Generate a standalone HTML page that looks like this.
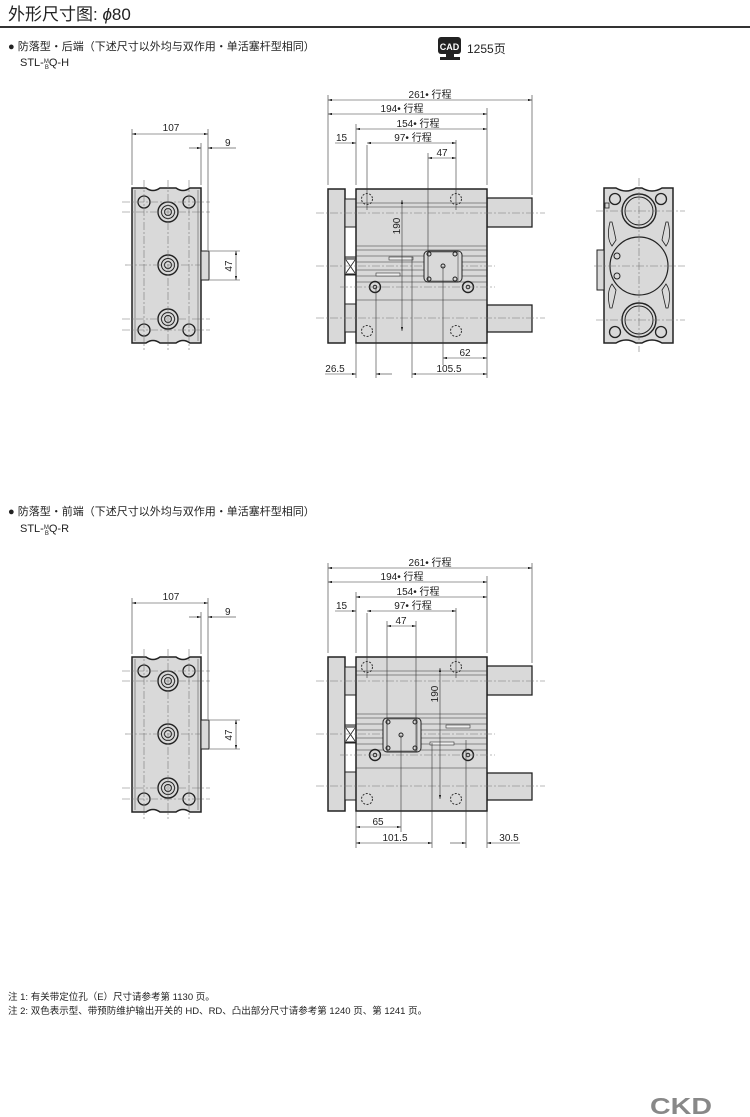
<!DOCTYPE html>
<html><head><meta charset="utf-8"><style>
html,body{margin:0;padding:0;background:#fff;}
body{width:750px;height:1117px;overflow:hidden;position:relative;font-family:"Liberation Sans","Noto Sans CJK SC",sans-serif;}
svg{position:absolute;left:0;top:0;}
</style></head><body>
<svg width="750" height="1117" viewBox="0 0 750 1117" xmlns="http://www.w3.org/2000/svg" font-family="Liberation Sans, Noto Sans CJK SC, sans-serif">
<defs>
<marker id="a" viewBox="0 0 10 6" refX="10" refY="3" markerWidth="7" markerHeight="4" orient="auto-start-reverse"><path d="M0,0L10,3L0,6z" fill="#222"/></marker>
<g id="side">
 <path d="M132,188 H146 Q153,193 160,188 H176 Q183,193 190,188 H201 V343 H190 Q183,338 176,343 H160 Q153,338 146,343 H132 Z" fill="#d9d9d9" stroke="#222" stroke-width="1.5"/>
 <line x1="135" y1="190" x2="135" y2="341" stroke="#555" stroke-width="0.6"/>
 <line x1="198" y1="190" x2="198" y2="341" stroke="#555" stroke-width="0.6"/>
 <rect x="201" y="251" width="8" height="29" fill="#d9d9d9" stroke="#222"/>
 <g fill="none" stroke="#222">
  <circle cx="168" cy="212" r="10" stroke-width="1.4"/><circle cx="168" cy="212" r="6.5"/><circle cx="168" cy="212" r="3.5"/>
  <circle cx="168" cy="265" r="10" stroke-width="1.4"/><circle cx="168" cy="265" r="6.5"/><circle cx="168" cy="265" r="3.5"/>
  <circle cx="168" cy="319" r="10" stroke-width="1.4"/><circle cx="168" cy="319" r="6.5"/><circle cx="168" cy="319" r="3.5"/>
  <circle cx="144" cy="202" r="6" stroke-width="1.3"/><circle cx="189" cy="202" r="6" stroke-width="1.3"/>
  <circle cx="144" cy="330" r="6" stroke-width="1.3"/><circle cx="189" cy="330" r="6" stroke-width="1.3"/>
 </g>
 <g stroke="#777" stroke-width="0.6" stroke-dasharray="8,2,2,2" fill="none">
  <line x1="168" y1="180" x2="168" y2="350"/><line x1="144" y1="180" x2="144" y2="350"/><line x1="189" y1="180" x2="189" y2="350"/>
  <line x1="122" y1="202" x2="210" y2="202"/><line x1="122" y1="330" x2="210" y2="330"/>
  <line x1="122" y1="212" x2="210" y2="212"/><line x1="122" y1="319" x2="210" y2="319"/>
  <line x1="125" y1="265" x2="200" y2="265"/>
 </g>
 <g stroke="#333" stroke-width="0.6" fill="none">
  <line x1="132" y1="185" x2="132" y2="129"/><line x1="201" y1="185" x2="201" y2="143"/><line x1="208" y1="250" x2="208" y2="129"/>
  <line x1="132" y1="134" x2="208" y2="134" marker-start="url(#a)" marker-end="url(#a)"/>
  <line x1="189" y1="148" x2="201" y2="148" marker-end="url(#a)"/><line x1="222" y1="148" x2="208" y2="148" marker-end="url(#a)"/><line x1="222" y1="148" x2="236" y2="148"/>
  <line x1="210" y1="251" x2="240" y2="251"/><line x1="210" y1="280" x2="240" y2="280"/>
  <line x1="236" y1="251" x2="236" y2="280" marker-start="url(#a)" marker-end="url(#a)"/>
 </g>
 <text x="171" y="131" font-size="10" text-anchor="middle" fill="#222">107</text>
 <text x="225" y="146" font-size="10" fill="#222">9</text>
 <text x="232" y="266" font-size="10" fill="#222" transform="rotate(-90 232 266)" text-anchor="middle">47</text>
</g>
<g id="mainbase">
 <rect x="328" y="189" width="17" height="154" fill="#d9d9d9" stroke="#222" stroke-width="1.5"/>
 <rect x="345" y="199" width="11" height="133" fill="#d9d9d9" stroke="#222"/>
 <rect x="345" y="227" width="11" height="30" fill="#fff" stroke="#222"/>
 <rect x="345" y="259" width="11" height="15" fill="#fff" stroke="#222"/>
 <path d="M346,260 L355,273 M355,260 L346,273" stroke="#222" stroke-width="0.8"/>
 <rect x="345" y="275" width="11" height="29" fill="#fff" stroke="#222"/>
 <rect x="487" y="198" width="45" height="29" fill="#d9d9d9" stroke="#222" stroke-width="1.3"/>
 <rect x="487" y="305" width="45" height="27" fill="#d9d9d9" stroke="#222" stroke-width="1.3"/>
 <rect x="356" y="189" width="131" height="154" fill="#d9d9d9" stroke="#222" stroke-width="1.5"/>
 <g stroke="#333" stroke-width="0.6">
  <line x1="356" y1="203" x2="487" y2="203"/><line x1="356" y1="207" x2="487" y2="207"/>
  <line x1="356" y1="246" x2="487" y2="246"/><line x1="356" y1="250" x2="487" y2="250"/>
  <line x1="356" y1="256" x2="487" y2="256"/><line x1="356" y1="262" x2="487" y2="262"/>
  <line x1="356" y1="270" x2="487" y2="270"/><line x1="356" y1="276" x2="487" y2="276"/>
  <line x1="356" y1="282" x2="487" y2="282"/><line x1="356" y1="300" x2="487" y2="300"/>
 </g>
 <g stroke="#222" fill="none" stroke-width="1.4">
  <circle cx="375" cy="287" r="5.5"/><circle cx="468" cy="287" r="5.5"/>
 </g>
 <circle cx="375" cy="287" r="1.8" fill="none" stroke="#222"/><circle cx="468" cy="287" r="1.8" fill="none" stroke="#222"/>
 <g stroke="#333" stroke-width="1" stroke-dasharray="2,1.5" fill="none">
  <circle cx="367" cy="199" r="5.5"/><circle cx="456" cy="199" r="5.5"/>
  <circle cx="367" cy="331" r="5.5"/><circle cx="456" cy="331" r="5.5"/>
 </g>
 <g stroke="#777" stroke-width="0.6" stroke-dasharray="8,2,2,2">
  <line x1="316" y1="213" x2="545" y2="213"/><line x1="316" y1="318" x2="545" y2="318"/>
  <line x1="316" y1="266" x2="495" y2="266"/><line x1="340" y1="287" x2="495" y2="287"/>
 </g>
 <g stroke="#333" stroke-width="0.6" fill="none">
  <line x1="328" y1="185" x2="328" y2="95"/><line x1="532" y1="195" x2="532" y2="95"/>
  <line x1="356" y1="185" x2="356" y2="124"/><line x1="487" y1="185" x2="487" y2="108"/>
  <line x1="367" y1="145" x2="367" y2="210"/><line x1="456" y1="140" x2="456" y2="210"/>
  <line x1="328" y1="100" x2="532" y2="100" marker-start="url(#a)" marker-end="url(#a)"/>
  <line x1="328" y1="114" x2="487" y2="114" marker-start="url(#a)" marker-end="url(#a)"/>
  <line x1="356" y1="129" x2="487" y2="129" marker-start="url(#a)" marker-end="url(#a)"/>
  <line x1="367" y1="143" x2="456" y2="143" marker-start="url(#a)" marker-end="url(#a)"/>
  <line x1="335" y1="143" x2="356" y2="143" marker-end="url(#a)"/>
 </g>
 <text x="430" y="98" font-size="10" text-anchor="middle" fill="#222">261• 行程</text>
 <text x="402" y="112" font-size="10" text-anchor="middle" fill="#222">194• 行程</text>
 <text x="418" y="127" font-size="10" text-anchor="middle" fill="#222">154• 行程</text>
 <text x="413" y="141" font-size="10" text-anchor="middle" fill="#222">97• 行程</text>
 <text x="336" y="141" font-size="10" fill="#222">15</text>
</g>
</defs>

<text x="8" y="20" font-size="17" fill="#222">外形尺寸图: <tspan font-style="italic">ϕ</tspan>80</text>
<rect x="0" y="26" width="750" height="2" fill="#333"/>

<text x="8" y="50" font-size="11" fill="#222">● 防落型・后端（下述尺寸以外均与双作用・单活塞杆型相同）</text>
<text x="20" y="66" font-size="11" fill="#222">STL-<tspan font-size="6" dy="-3">M</tspan><tspan font-size="6" dx="-4" dy="6">B</tspan><tspan dy="-3">Q-H</tspan></text>
<rect x="438" y="37" width="23" height="17" rx="3" fill="#222"/>
<text x="449.5" y="50" font-size="9" font-weight="bold" fill="#fff" text-anchor="middle">CAD</text>
<rect x="446" y="54" width="8" height="3" fill="#222"/><rect x="440" y="57" width="20" height="3" fill="#222"/>
<text x="467" y="53" font-size="12" fill="#222">1255页</text>

<use href="#side"/>
<use href="#mainbase"/>
<!-- top main specifics -->
<rect x="424" y="251" width="38" height="31" rx="4" fill="#d9d9d9" stroke="#222"/>
<rect x="428" y="252" width="30" height="29" fill="none" stroke="#444" stroke-width="0.6"/>
<circle cx="429" cy="254" r="2" fill="none" stroke="#222"/><circle cx="455" cy="254" r="2" fill="none" stroke="#222"/>
<circle cx="429" cy="279" r="2" fill="none" stroke="#222"/><circle cx="455" cy="279" r="2" fill="none" stroke="#222"/>
<circle cx="443" cy="266" r="2" fill="none" stroke="#222"/>
<rect x="389" y="257" width="24" height="3" fill="#eee" stroke="#333" stroke-width="0.6"/>
<rect x="376" y="273" width="24" height="3" fill="#eee" stroke="#333" stroke-width="0.6"/>
<g stroke="#333" stroke-width="0.6" fill="none">
 <line x1="428" y1="153" x2="428" y2="282"/><line x1="443" y1="266" x2="443" y2="365"/>
 <line x1="376" y1="287" x2="376" y2="378"/><line x1="412" y1="257" x2="412" y2="378"/>
 <line x1="356" y1="343" x2="356" y2="378"/><line x1="487" y1="343" x2="487" y2="378"/>
 <line x1="428" y1="158" x2="456" y2="158" marker-start="url(#a)" marker-end="url(#a)"/>
 <line x1="402" y1="200" x2="402" y2="331" marker-start="url(#a)" marker-end="url(#a)"/>
 <line x1="443" y1="358" x2="487" y2="358" marker-start="url(#a)" marker-end="url(#a)"/>
 <line x1="325" y1="374" x2="356" y2="374" marker-end="url(#a)"/>
 <line x1="392" y1="374" x2="376" y2="374" marker-end="url(#a)"/>
 <line x1="412" y1="374" x2="487" y2="374" marker-start="url(#a)" marker-end="url(#a)"/>
</g>
<text x="442" y="156" font-size="10" text-anchor="middle" fill="#222">47</text>
<text x="400" y="226" font-size="10" fill="#222" transform="rotate(-90 400 226)" text-anchor="middle">190</text>
<text x="465" y="356" font-size="10" text-anchor="middle" fill="#222">62</text>
<text x="335" y="372" font-size="10" text-anchor="middle" fill="#222">26.5</text>
<text x="449" y="372" font-size="10" text-anchor="middle" fill="#222">105.5</text>

<!-- right end view -->
<g>
 <path d="M604,188 H616 Q626,194 636,188 H642 Q652,194 662,188 H673 V343 H662 Q652,337 642,343 H636 Q626,337 616,343 H604 Z" fill="#d9d9d9" stroke="#222" stroke-width="1.5"/>
 <rect x="597" y="250" width="7" height="40" fill="#d9d9d9" stroke="#222"/>
 <rect x="605" y="203" width="4" height="5" fill="#d9d9d9" stroke="#222" stroke-width="0.8"/>
 <g fill="none" stroke="#222">
  <circle cx="639" cy="211" r="17" stroke-width="1.4"/><circle cx="639" cy="211" r="14"/>
  <circle cx="639" cy="320" r="17" stroke-width="1.4"/><circle cx="639" cy="320" r="14"/>
  <circle cx="639" cy="266" r="29" stroke-width="1.2"/>
  <circle cx="615" cy="199" r="5.5" stroke-width="1.3"/><circle cx="661" cy="199" r="5.5" stroke-width="1.3"/>
  <circle cx="615" cy="332" r="5.5" stroke-width="1.3"/><circle cx="661" cy="332" r="5.5" stroke-width="1.3"/>
  <circle cx="617" cy="256" r="3"/><circle cx="617" cy="276" r="3"/>
  <path d="M610,222 Q606,238 612,246 L616,240 Q614,230 612,222 Z" stroke-width="0.8"/>
  <path d="M668,222 Q672,238 666,246 L662,240 Q664,230 666,222 Z" stroke-width="0.8"/>
  <path d="M610,308 Q606,292 612,284 L616,290 Q614,300 612,308 Z" stroke-width="0.8"/>
  <path d="M668,308 Q672,292 666,284 L662,290 Q664,300 666,308 Z" stroke-width="0.8"/>
 </g>
 <g stroke="#777" stroke-width="0.6" stroke-dasharray="8,2,2,2">
  <line x1="639" y1="178" x2="639" y2="352"/><line x1="594" y1="266" x2="685" y2="266"/>
  <line x1="596" y1="211" x2="685" y2="211"/><line x1="596" y1="320" x2="685" y2="320"/>
 </g>
</g>

<!-- second section -->
<text x="8" y="515" font-size="11" fill="#222">● 防落型・前端（下述尺寸以外均与双作用・单活塞杆型相同）</text>
<text x="20" y="532" font-size="11" fill="#222">STL-<tspan font-size="6" dy="-3">M</tspan><tspan font-size="6" dx="-4" dy="6">B</tspan><tspan dy="-3">Q-R</tspan></text>

<use href="#side" transform="translate(0,469)"/>
<use href="#mainbase" transform="translate(0,468)"/>
<rect x="383" y="718" width="38" height="34" rx="4" fill="#d9d9d9" stroke="#222"/>
<rect x="387" y="719" width="30" height="32" fill="none" stroke="#444" stroke-width="0.6"/>
<circle cx="388" cy="722" r="2" fill="none" stroke="#222"/><circle cx="415" cy="722" r="2" fill="none" stroke="#222"/>
<circle cx="388" cy="748" r="2" fill="none" stroke="#222"/><circle cx="415" cy="748" r="2" fill="none" stroke="#222"/>
<circle cx="401" cy="735" r="2" fill="none" stroke="#222"/>
<rect x="446" y="725" width="24" height="3" fill="#eee" stroke="#333" stroke-width="0.6"/>
<rect x="430" y="742" width="24" height="3" fill="#eee" stroke="#333" stroke-width="0.6"/>
<g stroke="#333" stroke-width="0.6" fill="none">
 <line x1="387" y1="621" x2="387" y2="752"/><line x1="416" y1="621" x2="416" y2="752"/>
 <line x1="401" y1="735" x2="401" y2="832"/><line x1="432" y1="743" x2="432" y2="848"/>
 <line x1="466" y1="740" x2="466" y2="848"/>
 <line x1="356" y1="811" x2="356" y2="848"/><line x1="487" y1="811" x2="487" y2="848"/>
 <line x1="387" y1="626" x2="416" y2="626" marker-start="url(#a)" marker-end="url(#a)"/>
 <line x1="440" y1="668" x2="440" y2="799" marker-start="url(#a)" marker-end="url(#a)"/>
 <line x1="356" y1="827" x2="401" y2="827" marker-start="url(#a)" marker-end="url(#a)"/>
 <line x1="356" y1="843" x2="432" y2="843" marker-start="url(#a)" marker-end="url(#a)"/>
 <line x1="450" y1="843" x2="466" y2="843" marker-end="url(#a)"/>
 <line x1="520" y1="843" x2="487" y2="843" marker-end="url(#a)"/>
</g>
<text x="401" y="624" font-size="10" text-anchor="middle" fill="#222">47</text>
<text x="438" y="694" font-size="10" fill="#222" transform="rotate(-90 438 694)" text-anchor="middle">190</text>
<text x="378" y="825" font-size="10" text-anchor="middle" fill="#222">65</text>
<text x="395" y="841" font-size="10" text-anchor="middle" fill="#222">101.5</text>
<text x="509" y="841" font-size="10" text-anchor="middle" fill="#222">30.5</text>

<text x="8" y="1000" font-size="9.5" fill="#222">注 1: 有关带定位孔（E）尺寸请参考第 1130 页。</text>
<text x="8" y="1014" font-size="9.5" fill="#222">注 2: 双色表示型、带预防维护输出开关的 HD、RD、凸出部分尺寸请参考第 1240 页、第 1241 页。</text>
<text x="650" y="1114" font-size="23" font-weight="bold" fill="#888" textLength="62" lengthAdjust="spacingAndGlyphs">CKD</text>
</svg>
</body></html>
